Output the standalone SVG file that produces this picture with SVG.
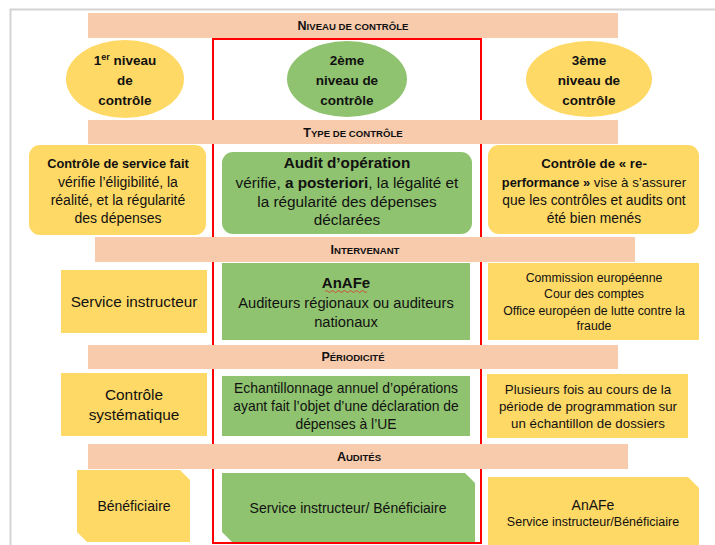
<svg xmlns="http://www.w3.org/2000/svg" width="715" height="545" viewBox="0 0 715 545">
<style>
text{font-family:"Liberation Sans",Arial,sans-serif;fill:#111;text-anchor:middle}
.band{fill:#F8CBAD}
.yel{fill:#FFD966}
.grn{fill:#8FC36F}
.hd{font-size:9.6px;font-weight:bold}
.cap{font-size:12.5px}
.el{font-size:13.5px;font-weight:bold}
.b{font-size:14px}
.bb{font-weight:bold}
.s{font-size:12.3px}
</style>
<rect x="10.5" y="9.5" width="720" height="560" fill="#fff" stroke="#d4d4d4" stroke-width="2"/>
<rect id="frame-2nd" x="213" y="39" width="268" height="504" fill="none" stroke="#FF0000" stroke-width="2"/>

<g id="band-niveau"><rect class="band" x="88" y="13" width="530" height="25"/><text class="hd" x="353" y="30"><tspan class="cap">N</tspan>IVEAU DE CONTRÔLE</text></g>

<g id="niveau-1"><ellipse class="yel" cx="125" cy="79" rx="59" ry="39"/>
<text class="el" x="125" y="65">1<tspan font-size="9" dy="-5">er</tspan><tspan dy="5"> niveau</tspan></text>
<text class="el" x="125" y="85">de</text><text class="el" x="125" y="105">contrôle</text></g>
<g id="niveau-2"><ellipse class="grn" cx="347" cy="79" rx="60" ry="38"/>
<text class="el" x="347" y="65">2ème</text><text class="el" x="347" y="85">niveau de</text><text class="el" x="347" y="105">contrôle</text></g>
<g id="niveau-3"><ellipse class="yel" cx="589" cy="79" rx="63" ry="38"/>
<text class="el" x="589" y="65">3ème</text><text class="el" x="589" y="85">niveau de</text><text class="el" x="589" y="105">contrôle</text></g>

<g id="band-type"><rect class="band" x="88" y="120" width="530" height="24"/><text class="hd" x="353" y="137"><tspan class="cap">T</tspan>YPE DE CONTRÔLE</text></g>

<g id="type-1"><rect class="yel" x="29" y="145" width="177" height="90" rx="11"/>
<text class="bb" x="118" y="168" font-size="12.8">Contrôle de service fait</text>
<text class="b" x="118" y="187">vérifie l’éligibilité, la</text>
<text class="b" x="118" y="205">réalité, et la régularité</text>
<text class="b" x="118" y="223">des dépenses</text></g>
<g id="type-2"><rect class="grn" x="222" y="152" width="250" height="82" rx="11"/>
<text class="bb" x="347" y="168" font-size="15.3">Audit d’opération</text>
<text x="347" y="188" font-size="15.3">vérifie, <tspan class="bb">a posteriori</tspan>, la légalité et</text>
<text x="347" y="207" font-size="15.3">la régularité des dépenses</text>
<text x="347" y="225" font-size="15.3">déclarées</text></g>
<g id="type-3"><rect class="yel" x="488" y="145" width="211" height="89" rx="11"/>
<text class="bb" x="594" y="168" font-size="13.3">Contrôle de « re-</text>
<text x="594" y="187" font-size="13.3"><tspan class="bb" font-size="12.8">performance »</tspan> vise à s’assurer</text>
<text x="594" y="205" font-size="13.8">que les contrôles et audits ont</text>
<text x="594" y="223" font-size="13.8">été bien menés</text></g>

<g id="band-intervenant"><rect class="band" x="95" y="237" width="540" height="25"/><text class="hd" x="365" y="254"><tspan class="cap">I</tspan>NTERVENANT</text></g>

<g id="int-1"><rect class="yel" x="61" y="270" width="146" height="63"/>
<text x="134" y="307" font-size="15.3">Service instructeur</text></g>
<g id="int-2"><rect class="grn" x="222" y="263" width="248" height="77"/>
<text class="bb" x="346" y="288" font-size="15">AnAFe</text>
<path d="M325 291.5 q1.5 -2 3 0 t3 0 t3 0 t3 0 t3 0 t3 0 t3 0 t3 0 t3 0 t3 0 t3 0 t3 0 t3 0 t3 0" fill="none" stroke="#e0302a" stroke-width="0.8"/>
<text x="346" y="308" font-size="14.7">Auditeurs régionaux ou auditeurs</text>
<text x="346" y="327" font-size="14.7">nationaux</text></g>
<g id="int-3"><rect class="yel" x="488" y="263" width="211" height="77"/>
<text class="s" x="594" y="282">Commission européenne</text>
<text class="s" x="594" y="298">Cour des comptes</text>
<text class="s" x="594" y="315">Office européen de lutte contre la</text>
<text class="s" x="594" y="330">fraude</text></g>

<g id="band-periodicite"><rect class="band" x="88" y="345" width="530" height="24"/><text class="hd" x="353" y="361"><tspan class="cap">P</tspan>ÉRIODICITÉ</text></g>

<g id="per-1"><rect class="yel" x="61" y="373" width="146" height="63"/>
<text x="134" y="400" font-size="15.4">Contrôle</text>
<text x="134" y="420" font-size="15.4">systématique</text></g>
<g id="per-2"><rect class="grn" x="222" y="376" width="248" height="60"/>
<text x="346" y="393" font-size="13.9">Echantillonnage annuel d’opérations</text>
<text x="346" y="411" font-size="13.9">ayant fait l’objet d’une déclaration de</text>
<text x="346" y="429" font-size="13.9">dépenses à l’UE</text></g>
<g id="per-3"><rect class="yel" x="487" y="374" width="201" height="64"/>
<text x="588" y="394" font-size="13.3">Plusieurs fois au cours de la</text>
<text x="588" y="411" font-size="13.3">période de programmation sur</text>
<text x="588" y="428" font-size="13.3">un échantillon de dossiers</text></g>

<g id="band-audites"><rect class="band" x="88" y="444" width="540" height="25"/><text class="hd" x="359" y="461"><tspan class="cap">A</tspan>UDITÉS</text></g>

<g id="aud-1"><polygon class="yel" points="77,470 180,470 190,480 190,542 87,542 77,532"/>
<text x="134" y="511" font-size="14">Bénéficiaire</text></g>
<g id="aud-2"><polygon class="grn" points="222,473 465,473 475,483 475,542 232,542 222,532"/>
<text x="348" y="513" font-size="14">Service instructeur/ Bénéficiaire</text></g>
<g id="aud-3"><polygon class="yel" points="488,477 688,477 699,488 699,560 488,560"/>
<text x="593" y="510" font-size="14">AnAFe</text>
<text x="593" y="526" font-size="12.5">Service instructeur/Bénéficiaire</text></g>
</svg>
